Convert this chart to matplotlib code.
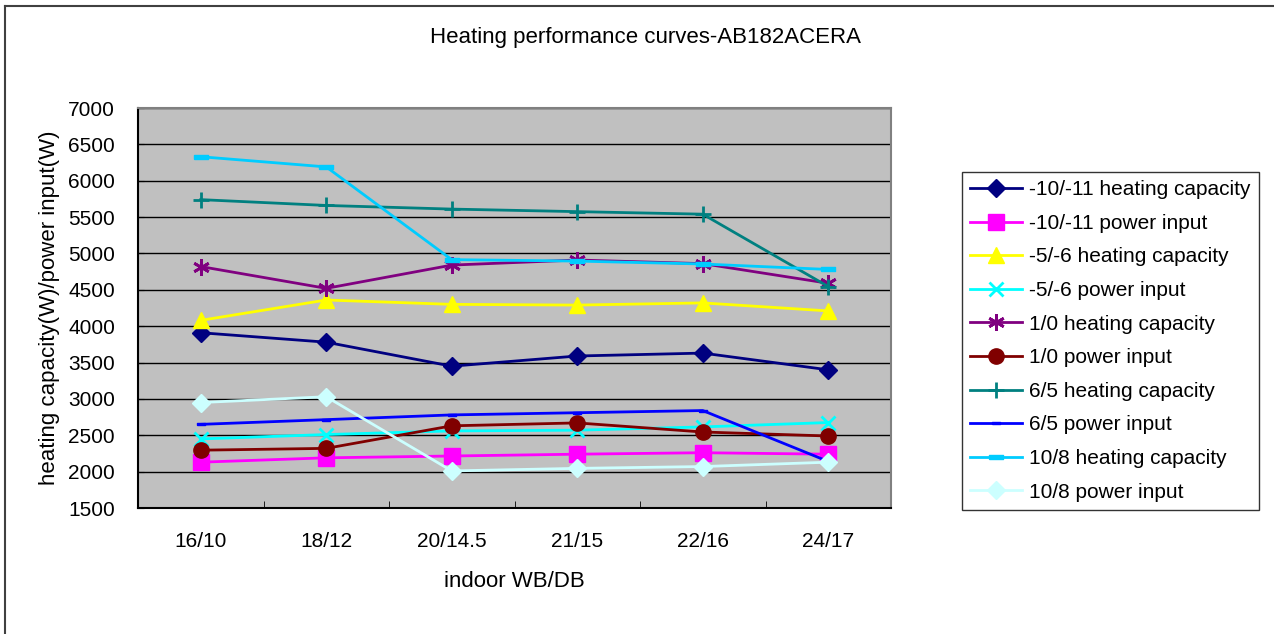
import matplotlib.pyplot as plt
from matplotlib.lines import Line2D
import numpy as np

plt.rcParams['font.family'] = ['Liberation Sans', 'DejaVu Sans']

categories = ['16/10', '18/12', '20/14.5', '21/15', '22/16', '24/17']

cap_m10 = [3910, 3780, 3450, 3590, 3630, 3400]
pwr_m10 = [2130, 2190, 2215, 2240, 2260, 2240]
cap_m5 = [4080, 4360, 4300, 4290, 4320, 4210]
pwr_m5 = [2450, 2510, 2560, 2570, 2615, 2675]
cap_1 = [4820, 4520, 4840, 4910, 4860, 4590]
pwr_1 = [2295, 2320, 2630, 2670, 2545, 2490]
cap_6 = [5740, 5660, 5610, 5575, 5540, 4545]
pwr_6 = [2650, 2715, 2780, 2810, 2840, 2140]
cap_10 = [6330, 6190, 4915, 4895, 4855, 4780]
pwr_10 = [2950, 3030, 2010, 2045, 2070, 2130]

dash_s = [(-1, -0.35), (1, -0.35), (1, 0.35), (-1, 0.35), (-1, -0.35)]

series = [
    ('-10/-11 heating capacity', cap_m10, '#000080', 'D', 9),
    ('-10/-11 power input', pwr_m10, '#FF00FF', 's', 11),
    ('-5/-6 heating capacity', cap_m5, '#FFFF00', '^', 12),
    ('-5/-6 power input', pwr_m5, '#00FFFF', 'x', 10),
    ('1/0 heating capacity', cap_1, '#800080', (6, 2, 0), 12),
    ('1/0 power input', pwr_1, '#800000', 'o', 11),
    ('6/5 heating capacity', cap_6, '#008080', '+', 12),
    ('6/5 power input', pwr_6, '#0000FF', dash_s, 6),
    ('10/8 heating capacity', cap_10, '#00CCFF', dash_s, 10),
    ('10/8 power input', pwr_10, '#CCFFFF', 'D', 9),
]

fig = plt.figure(figsize=(12.74, 6.34), dpi=100)
ax = fig.add_axes([138 / 1274, 1 - 508 / 634, (891 - 138) / 1274, (508 - 108) / 634])
ax.set_facecolor('#C0C0C0')

x = np.arange(len(categories))
for label, vals, color, marker, ms in series:
    mew = 2 if marker in ('x', '+') or isinstance(marker, tuple) else 1
    ax.plot(x, vals, color=color, lw=2, marker=marker, ms=ms,
            mec=color, mfc=color, mew=mew, label=label)

ax.set_xlim(-0.5, len(categories) - 0.5)
ax.set_ylim(1500, 7000)
ax.set_yticks(np.arange(1500, 7001, 500))
ax.yaxis.grid(True, color='black', lw=1)
ax.set_axisbelow(True)
ax.set_xticks(x)
ax.set_xticklabels(categories, fontsize=15)
ax.set_xticks(np.arange(0.5, len(categories) - 0.5), minor=True)
ax.tick_params(axis='x', which='major', length=0, pad=17)
ax.tick_params(axis='x', which='minor', direction='in', length=5, color='black')
ax.tick_params(axis='y', direction='in', length=4, labelsize=15, pad=16.5)
for s in ('top', 'right'):
    ax.spines[s].set_color('#808080')
    ax.spines[s].set_linewidth(1.5)
for s in ('left', 'bottom'):
    ax.spines[s].set_color('black')
    ax.spines[s].set_linewidth(1.5)

ax.set_xlabel('indoor WB/DB', fontsize=16, labelpad=15)
ax.set_ylabel('heating capacity(W)/power input(W)', fontsize=16, labelpad=6)
fig.text(646 / 1274, 1 - 38 / 634, 'Heating performance curves-AB182ACERA',
         fontsize=16, ha='center', va='center')

leg = fig.legend(loc='upper left', bbox_to_anchor=(962 / 1274, 1 - 172 / 634),
                 fontsize=15, frameon=True, fancybox=False, handlelength=2.5,
                 handletextpad=0.3, labelspacing=0.7, borderpad=0.4,
                 borderaxespad=0)
leg.get_frame().set_edgecolor('black')
leg.get_frame().set_linewidth(1)

# chart frame: left and top edges
fig.add_artist(Line2D([5 / 1274, 5 / 1274], [0, 1 - 6 / 634], color='#404040', lw=1.5))
fig.add_artist(Line2D([5 / 1274, 1], [1 - 6 / 634, 1 - 6 / 634], color='#404040', lw=1.5))

fig.savefig('out.png', dpi=100)
